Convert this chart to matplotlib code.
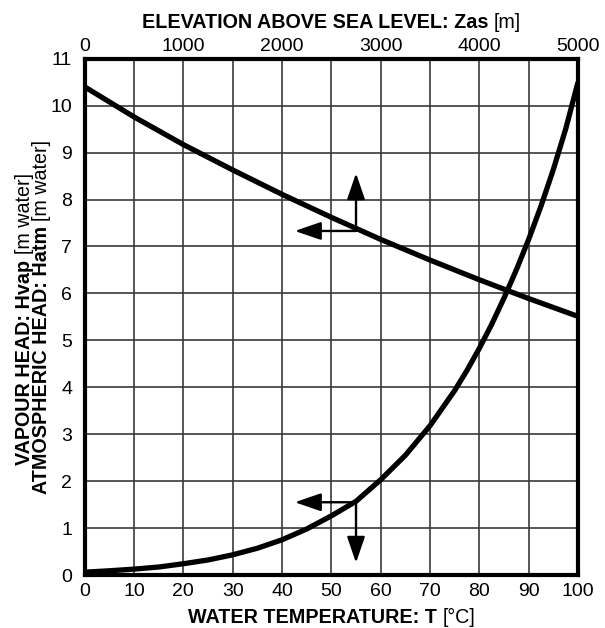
import matplotlib
matplotlib.use("Agg")
import matplotlib.pyplot as plt

plt.rcParams["font.family"] = ["Liberation Sans", "DejaVu Sans"]

# Vapour head of water vs temperature
temperature_c = [0, 5, 10, 15, 20, 25, 30, 35, 40, 45, 50, 55, 60, 65, 70,
                 75, 77.5, 80, 82.5, 85, 87.5, 90, 92.5, 95, 97.5, 100]
vapour_head_m = [0.06, 0.09, 0.125, 0.17, 0.24, 0.32, 0.43, 0.57, 0.75, 0.98, 1.26,
                 1.57, 2.03, 2.55, 3.18, 3.93, 4.36, 4.83, 5.34, 5.90, 6.50, 7.15,
                 7.86, 8.64, 9.50, 10.50]

# Atmospheric head vs elevation above sea level
elevation_m = [0, 500, 1000, 1500, 2000, 2500, 3000, 3500, 4000, 4500, 5000]
atmospheric_head_m = [10.40, 9.76, 9.17, 8.63, 8.11, 7.62, 7.15, 6.71, 6.29, 5.89, 5.51]

# Reading-direction arrows (temperature-axis units / head units)
arrow_t = 55
arrow_left_tip_t = 42.6
upper_arrow_head = 7.33
upper_arrow_tip = 8.56
lower_arrow_head = 1.55
lower_arrow_tip = 0.26

bottom_ticks = list(range(0, 101, 10))
top_ticks = list(range(0, 5001, 1000))
y_ticks = list(range(0, 12))

W, H = 605, 628
fig = plt.figure(figsize=(W / 100, H / 100), dpi=100)
ax = fig.add_axes([84.7 / W, (H - 575) / H, (578 - 84.7) / W, (575 - 58.7) / H])

TICK_SIZE = 14
ax.set_xlim(0, 100)
ax.set_ylim(0, 11)
ax.set_xticks(bottom_ticks)
ax.set_yticks(y_ticks)
ax.grid(True, color="#3a3a3a", linewidth=1.2, zorder=1)
ax.set_axisbelow(True)
ax.tick_params(axis="x", length=0, pad=6, labelsize=TICK_SIZE)
ax.tick_params(axis="y", length=0, pad=9, labelsize=TICK_SIZE)
for sp in ax.spines.values():
    sp.set_linewidth(3.0)
    sp.set_zorder(5)

ax.plot(temperature_c, vapour_head_m, color="black", linewidth=3.8,
        solid_capstyle="butt", solid_joinstyle="round", zorder=3)

ax2 = ax.twiny()
ax2.set_xlim(0, 5000)
ax2.set_xticks(top_ticks)
ax2.tick_params(axis="x", length=0, pad=2.5, labelsize=TICK_SIZE)
for sp in ax2.spines.values():
    sp.set_visible(False)
ax2.plot(elevation_m, atmospheric_head_m, color="black", linewidth=3.8,
         solid_capstyle="butt", solid_joinstyle="round", zorder=3)

arrow_props = dict(arrowstyle="-|>,head_length=1.6,head_width=0.55",
                   color="black", linewidth=1.7, shrinkA=0, shrinkB=0,
                   mutation_scale=10)
for head, tip in [(upper_arrow_head, upper_arrow_tip), (lower_arrow_head, lower_arrow_tip)]:
    ax.annotate("", xy=(arrow_t, tip), xytext=(arrow_t, head), arrowprops=arrow_props, zorder=4)
    ax.annotate("", xy=(arrow_left_tip_t, head), xytext=(arrow_t, head), arrowprops=arrow_props, zorder=4)

# Axis titles built from bold and regular pieces
renderer = fig.canvas.get_renderer()
LABEL_SIZE = 14.2


def piece_width(text, weight):
    t = fig.text(0, 0, text, fontsize=LABEL_SIZE, fontweight=weight, transform=None)
    w = t.get_window_extent(renderer).width
    t.remove()
    return w


def mixed_label(pieces, center, baseline, rotation=0):
    gap = 0.28 * LABEL_SIZE * fig.dpi / 72
    widths = [piece_width(s, w) for s, w in pieces]
    total = sum(widths) + gap * (len(pieces) - 1)
    pos = center - total / 2
    for (s, w), wd in zip(pieces, widths):
        if rotation == 0:
            xy = (pos, baseline)
        else:
            xy = (baseline, pos)
        fig.text(xy[0], xy[1], s, fontsize=LABEL_SIZE, fontweight=w,
                 rotation=rotation, rotation_mode="anchor",
                 ha="left", va="baseline", transform=None)
        pos += wd + gap


axes_cx = (84.7 + 578) / 2
axes_cy = H - (58.7 + 575) / 2
mixed_label([("WATER TEMPERATURE: T", "bold"), ("[°C]", "normal")],
            center=axes_cx, baseline=H - 623)
mixed_label([("ELEVATION ABOVE SEA LEVEL: Zas", "bold"), ("[m]", "normal")],
            center=axes_cx, baseline=H - 27.5)
mixed_label([("VAPOUR HEAD: Hvap", "bold"), ("[m water]", "normal")],
            center=axes_cy - 2, baseline=29.5, rotation=90)
mixed_label([("ATMOSPHERIC HEAD: Hatm", "bold"), ("[m water]", "normal")],
            center=axes_cy, baseline=47, rotation=90)

fig.savefig("out.png", dpi=100)
